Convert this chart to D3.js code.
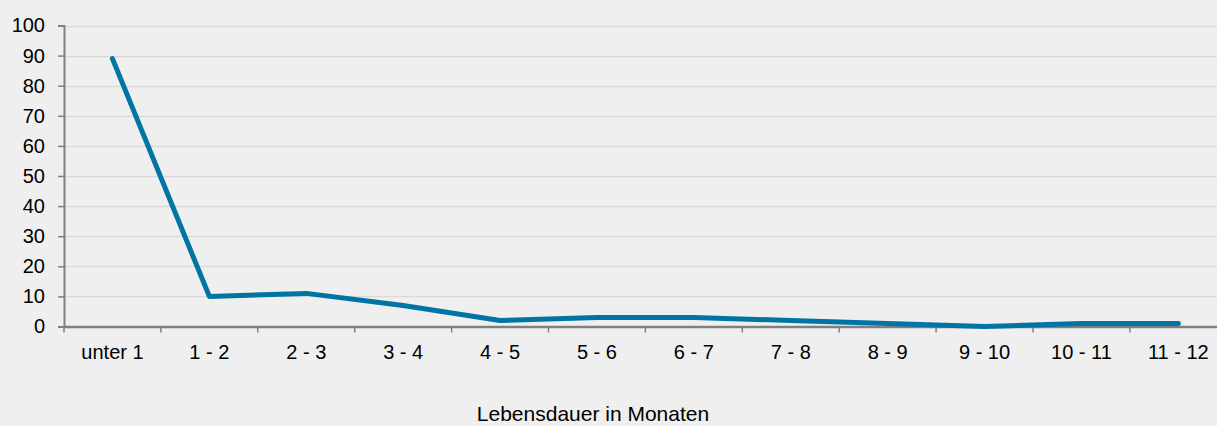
<!DOCTYPE html>
<html><head><meta charset="utf-8">
<script src="https://cdn.jsdelivr.net/npm/d3@7"></script>
<style>
html,body{margin:0;padding:0;background:#eeefee;overflow:hidden;}
svg{display:block;font-family:"Liberation Sans",Arial,sans-serif;}
</style></head><body>
<svg id="c" width="1217" height="426"></svg>
<script>
const categories = ["unter 1","1 - 2","2 - 3","3 - 4","4 - 5","5 - 6","6 - 7","7 - 8","8 - 9","9 - 10","10 - 11","11 - 12"];
const values = [89,10,11,7,2,3,3,2,1,0,1,1];
const yTicks = [0,10,20,30,40,50,60,70,80,90,100];
const xTitle = "Lebensdauer in Monaten";

(function(){
const svg = d3.select("#c");
const mLeft = 64, mRight = 64 + 12*96.9, mTop = 25.5, mBottom = 326.5;
const x = d3.scaleBand().domain(categories).range([mLeft, mRight]);
const y = d3.scaleLinear().domain([0,100]).range([mBottom, mTop]);
const FONT = "Liberation Sans, Arial, sans-serif";

svg.append("rect").attr("width",1217).attr("height",426).attr("fill","#eeefee");

svg.append("g").selectAll("line").data(yTicks.filter(d=>d>0)).join("line")
  .attr("x1",mLeft).attr("x2",mRight)
  .attr("y1",d=>Math.round(y(d))+0.5).attr("y2",d=>Math.round(y(d))+0.5)
  .attr("stroke","#d9d9d9").attr("stroke-width",1.5);

const ya = svg.append("g").attr("transform",`translate(${mLeft},0)`)
  .call(d3.axisLeft(y).tickValues(yTicks).tickSize(6).tickPadding(13));
ya.select(".domain").attr("stroke","#808080").attr("stroke-width",2);
ya.selectAll(".tick line").attr("stroke","#808080").attr("stroke-width",1.5);
ya.selectAll("text").attr("font-size",20).attr("fill","#000").attr("font-family",FONT);

const xa = svg.append("g").attr("transform",`translate(0,${mBottom})`)
  .call(d3.axisBottom(x).tickSize(0));
xa.select(".domain").attr("stroke","#808080").attr("stroke-width",2.5);
xa.selectAll("text").attr("font-size",20).attr("fill","#000").attr("font-family",FONT)
  .attr("y",32.5).attr("dy",0);
const bounds = categories.map(c=>x(c)).concat([mRight]);
svg.append("g").selectAll("line").data(bounds).join("line")
  .attr("x1",d=>d).attr("x2",d=>d).attr("y1",mBottom).attr("y2",mBottom+6)
  .attr("stroke","#808080").attr("stroke-width",1.5);

const line = d3.line().x((d,i)=>x(categories[i])+x.bandwidth()/2).y(d=>y(d));
svg.append("path").datum(values).attr("d",line)
  .attr("fill","none").attr("stroke","#0074a2").attr("stroke-width",5)
  .attr("stroke-linejoin","round").attr("stroke-linecap","round");

svg.append("text").attr("x",593).attr("y",421).attr("text-anchor","middle")
  .attr("font-size",21).attr("fill","#000").attr("font-family",FONT).text(xTitle);
})();
</script></body></html>
